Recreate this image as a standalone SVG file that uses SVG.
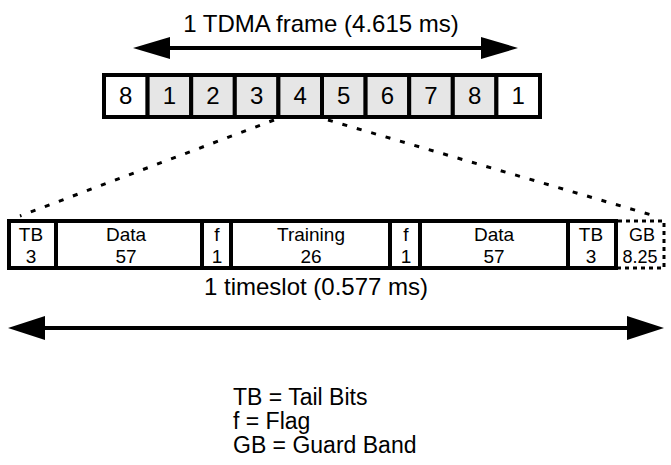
<svg xmlns="http://www.w3.org/2000/svg" width="671" height="465" viewBox="0 0 671 465">
<style>
text{font-family:"Liberation Sans",Arial,sans-serif;fill:#000}
.c{text-anchor:middle}
.cell{stroke:#000;stroke-width:4}
.g{fill:#e6e6e6}
.w{fill:#fff}
.ts{fill:#fff;stroke:#000;stroke-width:4}
.dot{fill:none;stroke:#000;stroke-width:3;stroke-dasharray:5 10}
.gb{fill:none;stroke:#000;stroke-width:3;stroke-dasharray:4 4}
.ln{stroke:#000;stroke-width:4}
</style>
<rect width="671" height="465" fill="#fff"/>
<text class="c" x="321" y="32" font-size="24">1 TDMA frame (4.615 ms)</text>
<g id="connectors">
<line class="ln" x1="165" y1="48" x2="486" y2="48"/>
<polygon points="133,48 170,37 170,59"/>
<polygon points="518,48 481,37 481,59"/>
<line class="dot" x1="274" y1="120" x2="20" y2="216"/>
<line class="dot" x1="328" y1="120" x2="655" y2="216"/>
<line class="ln" x1="40" y1="328" x2="632" y2="328"/>
<polygon points="8,328 45,316 45,340"/>
<polygon points="664,328 627,316 627,340"/>
</g>
<g id="frame">
<rect class="cell w" x="104" y="75" width="43.6" height="42"/>
<rect class="cell g" x="147.6" y="75" width="43.6" height="42"/>
<rect class="cell g" x="191.2" y="75" width="43.6" height="42"/>
<rect class="cell g" x="234.8" y="75" width="43.6" height="42"/>
<rect class="cell g" x="278.4" y="75" width="43.6" height="42"/>
<rect class="cell g" x="322" y="75" width="43.6" height="42"/>
<rect class="cell g" x="365.6" y="75" width="43.6" height="42"/>
<rect class="cell g" x="409.2" y="75" width="43.6" height="42"/>
<rect class="cell g" x="452.8" y="75" width="43.6" height="42"/>
<rect class="cell w" x="496.4" y="75" width="43.6" height="42"/>
<g font-size="24">
<text class="c" x="125.8" y="104">8</text>
<text class="c" x="169.4" y="104">1</text>
<text class="c" x="213" y="104">2</text>
<text class="c" x="256.6" y="104">3</text>
<text class="c" x="300.2" y="104">4</text>
<text class="c" x="343.8" y="104">5</text>
<text class="c" x="387.4" y="104">6</text>
<text class="c" x="431" y="104">7</text>
<text class="c" x="474.6" y="104">8</text>
<text class="c" x="518.2" y="104">1</text>
</g>
</g>
<g id="timeslot" font-size="19">
<g id="tb1"><rect class="ts" x="9" y="221" width="47" height="47"/><text class="c" y="241"><tspan x="31">TB</tspan><tspan x="31" dy="22">3</tspan></text></g>
<g id="data1"><rect class="ts" x="56" y="221" width="146" height="47"/><text class="c" y="241"><tspan x="126">Data</tspan><tspan x="126" dy="22">57</tspan></text></g>
<g id="f1"><rect class="ts" x="202" y="221" width="29" height="47"/><text class="c" y="241"><tspan x="217">f</tspan><tspan x="217" dy="22">1</tspan></text></g>
<g id="training"><rect class="ts" x="231" y="221" width="159" height="47"/><text class="c" y="241"><tspan x="311">Training</tspan><tspan x="311" dy="22">26</tspan></text></g>
<g id="f2"><rect class="ts" x="390" y="221" width="30" height="47"/><text class="c" y="241"><tspan x="406">f</tspan><tspan x="406" dy="22">1</tspan></text></g>
<g id="data2"><rect class="ts" x="420" y="221" width="148" height="47"/><text class="c" y="241"><tspan x="494">Data</tspan><tspan x="494" dy="22">57</tspan></text></g>
<g id="tb2"><rect class="ts" x="568" y="221" width="48" height="47"/><text class="c" y="241"><tspan x="591">TB</tspan><tspan x="591" dy="22">3</tspan></text></g>
<g id="gb"><path class="gb" d="M618,221 H664 V268 H618"/><text class="c" y="241" font-size="18"><tspan x="642">GB</tspan><tspan x="640" dy="22">8.25</tspan></text></g>
</g>
<text class="c" x="316" y="295" font-size="24">1 timeslot (0.577 ms)</text>
<g id="legend" font-size="23">
<text x="233" y="405">TB = Tail Bits</text>
<text x="233" y="429">f = Flag</text>
<text x="233" y="453">GB = Guard Band</text>
</g>
</svg>
